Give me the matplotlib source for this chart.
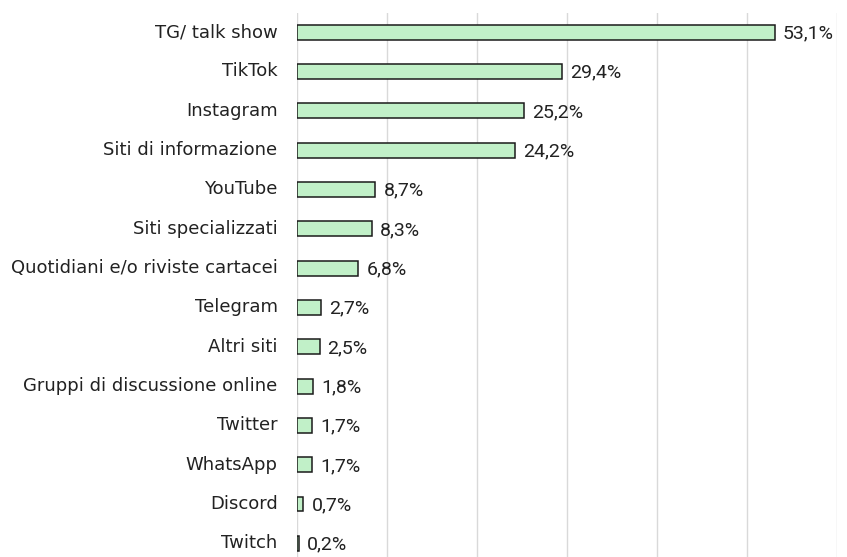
import matplotlib
matplotlib.use("Agg")
import matplotlib.pyplot as plt

categories = ["TG/ talk show", "TikTok", "Instagram", "Siti di informazione", "YouTube",
              "Siti specializzati", "Quotidiani e/o riviste cartacei", "Telegram", "Altri siti",
              "Gruppi di discussione online", "Twitter", "WhatsApp", "Discord", "Twitch"]
values = [53.1, 29.4, 25.2, 24.2, 8.7, 8.3, 6.8, 2.7, 2.5, 1.8, 1.7, 1.7, 0.7, 0.2]
value_labels = ["53,1%", "29,4%", "25,2%", "24,2%", "8,7%", "8,3%", "6,8%", "2,7%", "2,5%",
                "1,8%", "1,7%", "1,7%", "0,7%", "0,2%"]

plt.rcParams['font.family'] = ['DejaVu Sans']

fig = plt.figure(figsize=(8.47, 5.57), dpi=100)
W, H = 847, 557
left, right, top, bottom = 297, 837, 12.5, 563
ax = fig.add_axes([left / W, (H - bottom) / H, (right - left) / W, (bottom - top) / H])

y = list(range(len(categories)))
ax.barh(y, values, height=0.38, color="#c1f0c8", edgecolor="#1a1a1a", linewidth=1.1, zorder=3)
ax.set_ylim(len(categories) - 0.5, -0.5)
ax.set_xlim(0, 60)
ax.set_xticks(range(0, 61, 10))
ax.xaxis.grid(True, color="#d9d9d9", linewidth=1.0, zorder=0)
ax.tick_params(axis='x', length=0, labelbottom=False)
ax.tick_params(axis='y', length=0, pad=14, labelsize=13, labelcolor="#222222")
ax.set_yticks(y)
ax.set_yticklabels(categories, va='center')
for s in ax.spines.values():
    s.set_visible(False)

for yi, v, lab in zip(y, values, value_labels):
    ax.text(v + 0.9, yi + 0.03, lab, va='center', ha='left', fontsize=14,
            family=['Roboto', 'DejaVu Sans'], color="#222222")

fig.savefig("out.png", dpi=100)
